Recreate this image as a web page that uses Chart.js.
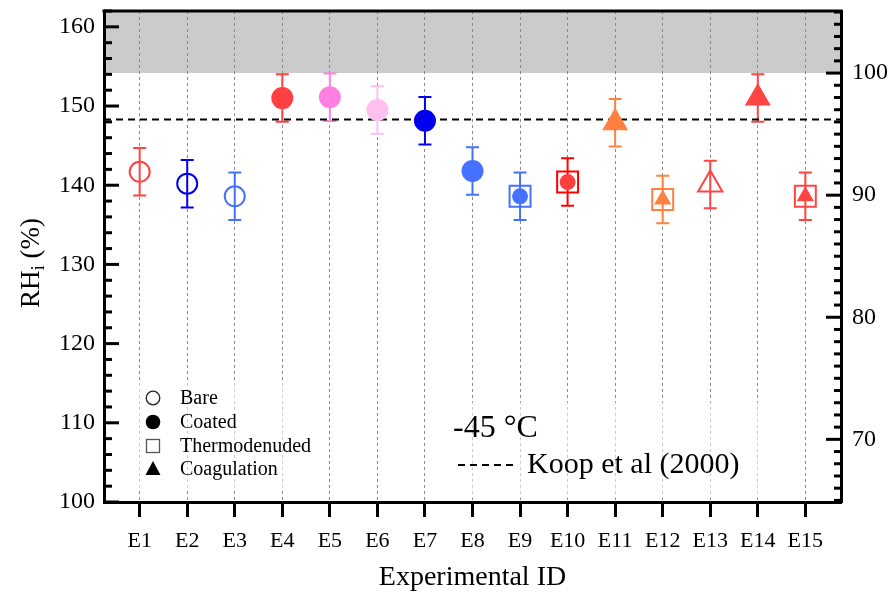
<!DOCTYPE html>
<html>
<head>
<meta charset="utf-8">
<script src="https://cdn.jsdelivr.net/npm/chart.js@4/dist/chart.umd.min.js"></script>
<style>
html,body{margin:0;padding:0;background:#fff;}
#wrap{width:894px;height:597px;}
canvas{display:block;}
</style>
</head>
<body>
<div id="wrap"><canvas id="c" width="894" height="597"></canvas></div>
<script>
// ---------- data ----------
const categories = ['E1','E2','E3','E4','E5','E6','E7','E8','E9','E10','E11','E12','E13','E14','E15'];
const rhiValues  = [141.7,140.2,138.6,151.0,151.1,149.5,148.15,141.8,138.6,140.4,147.9,138.2,140.1,151.0,138.6];
const rhiErrors  = [3.0,3.0,3.0,3.0,3.0,3.0,3.0,3.0,3.0,3.0,3.0,3.0,3.0,3.0,3.0];
const koopRHi = 148.3;                 // Koop et al (2000) homogeneous freezing
const waterSaturationRHi = 154.16;     // RHw = 100 %
const leftTickValues  = [100,110,120,130,140,150,160];
const rightTickValues = [70,80,90,100];
const legendLabels = ['Bare','Coated','Thermodenuded','Coagulation'];
const temperatureLabel = '-45 °C';
const koopLabel = 'Koop et al (2000)';
const xTitle = 'Experimental ID';

// ---------- styles (not data) ----------
const RED='#ff4444', BLUE='#0000ee', LBLUE='#4472ff', PINK='#ff80e0', LPINK='#ffc0f0', ORANGE='#ff8040';
const markerStyles = [
  {color:RED,   shape:'circle',   filled:false},
  {color:BLUE,  shape:'circle',   filled:false},
  {color:LBLUE, shape:'circle',   filled:false},
  {color:'#ff4040', shape:'circle', filled:true},
  {color:PINK,  shape:'circle',   filled:true},
  {color:LPINK, shape:'circle',   filled:true},
  {color:BLUE,  shape:'circle',   filled:true},
  {color:LBLUE, shape:'circle',   filled:true},
  {color:LBLUE, shape:'rect', filled:false, inner:'circle',   innerColor:LBLUE},
  {color:'#ff0000', shape:'rect', filled:false, inner:'circle', innerColor:'#ff4040'},
  {color:ORANGE,shape:'triangle', filled:true},
  {color:ORANGE,shape:'rect', filled:false, inner:'triangle', innerColor:ORANGE},
  {color:RED,   shape:'triangle', filled:false},
  {color:RED,   shape:'triangle', filled:true},
  {color:RED,   shape:'rect', filled:false, inner:'triangle', innerColor:RED}
];
function outerRadius(s){
  if (s.shape==='circle') return s.filled ? 11 : 10;
  if (s.shape==='rect') return 14.8;
  return s.filled ? 15 : 14;
}
function innerRadius(s){ return s.inner==='circle' ? 8 : 10; }

const FONT = '"Liberation Serif","Times New Roman",Times,serif';
const X_MIN = 0.25, X_MAX = 15.75, Y_MIN = 100, Y_MAX = 162;
const rightFactor = 100 / waterSaturationRHi;

const innerIdx = markerStyles.map((s,i)=>s.inner?i:-1).filter(i=>i>=0);

// ---------- plugins ----------
const errorBarPlugin = {
  id:'errorBars',
  beforeDatasetsDraw(chart){
    const {ctx, scales:{x,y}} = chart;
    ctx.save();
    // lighten grid lines behind the annotation boxes
    ctx.fillStyle='rgba(255,255,255,0.55)';
    ctx.fillRect(112,383,215,106);
    ctx.fillRect(440,402,345,96);
    rhiValues.forEach((v,i)=>{
      const px = x.getPixelForValue(i+1);
      const t = y.getPixelForValue(v+rhiErrors[i]);
      const b = y.getPixelForValue(v-rhiErrors[i]);
      ctx.strokeStyle = markerStyles[i].color;
      ctx.lineWidth = 2;
      ctx.beginPath();
      ctx.moveTo(px,t); ctx.lineTo(px,b);
      ctx.moveTo(px-6.5,t); ctx.lineTo(px+6.5,t);
      ctx.moveTo(px-6.5,b); ctx.lineTo(px+6.5,b);
      ctx.stroke();
    });
    ctx.restore();
  }
};

const decorPlugin = {
  id:'decor',
  afterDraw(chart){
    const {ctx, chartArea:a, scales:{x,y,y2}} = chart;
    ctx.save();
    ctx.strokeStyle='#000';
    // top border
    ctx.lineWidth=3;
    ctx.beginPath(); ctx.moveTo(a.left-1.5,a.top); ctx.lineTo(a.right+1.5,a.top); ctx.stroke();
    // inward ticks left
    for(let v=Y_MIN; v<=Y_MAX; v+=2){
      const py=y.getPixelForValue(v); const len = v%10===0?15:8;
      ctx.beginPath(); ctx.moveTo(a.left,py); ctx.lineTo(a.left+len,py); ctx.stroke();
    }
    // inward ticks right
    for(let v=Math.ceil(y2.min); v<=y2.max; v+=1){
      const py=y2.getPixelForValue(v); const len = v%10===0?15:7;
      ctx.beginPath(); ctx.moveTo(a.right,py); ctx.lineTo(a.right-len,py); ctx.stroke();
    }
    // axis titles
    ctx.fillStyle='#000';
    ctx.font='28px '+FONT; ctx.textAlign='center'; ctx.textBaseline='middle';
    ctx.fillText(xTitle,(a.left+a.right)/2,578);
    // y title with subscript
    ctx.save();
    ctx.translate(30,263); ctx.rotate(-Math.PI/2);
    const big='27px '+FONT, small='19px '+FONT;
    ctx.font=big; const w1=ctx.measureText('RH').width; const w3=ctx.measureText(' (%)').width;
    ctx.font=small; const w2=ctx.measureText('i').width;
    let sx=-(w1+w2+w3)/2;
    ctx.textAlign='left'; ctx.textBaseline='alphabetic';
    ctx.font=big; ctx.fillText('RH',sx,9); sx+=w1;
    ctx.font=small; ctx.fillText('i',sx,14); sx+=w2;
    ctx.font=big; ctx.fillText(' (%)',sx,9);
    ctx.restore();
    // legend
    const lx=153, rows=[398,422,446,469];
    ctx.lineWidth=1.3; ctx.strokeStyle='#222'; ctx.fillStyle='#000';
    ctx.beginPath(); ctx.arc(lx,rows[0],6.8,0,Math.PI*2); ctx.stroke();
    ctx.beginPath(); ctx.arc(lx,rows[1],7.3,0,Math.PI*2); ctx.fill();
    ctx.strokeStyle='#555'; ctx.strokeRect(lx-6.5,rows[2]-6.5,13,13);
    ctx.beginPath(); ctx.moveTo(lx,rows[3]-8); ctx.lineTo(lx+7.5,rows[3]+6); ctx.lineTo(lx-7.5,rows[3]+6); ctx.closePath(); ctx.fill();
    ctx.font='20px '+FONT; ctx.textAlign='left'; ctx.textBaseline='middle';
    legendLabels.forEach((t,i)=>ctx.fillText(t,180,rows[i]+1));
    // temperature + Koop legend
    ctx.font='32px '+FONT;
    ctx.fillText(temperatureLabel,453,429);
    ctx.strokeStyle='#000'; ctx.lineWidth=2; ctx.setLineDash([7,5]);
    ctx.beginPath(); ctx.moveTo(458,465); ctx.lineTo(517,465); ctx.stroke();
    ctx.setLineDash([]);
    ctx.font='30px '+FONT;
    ctx.fillText(koopLabel,527,465);
    ctx.restore();
  }
};

// ---------- datasets ----------
const innerDataset = {
  label:'inner',
  data: innerIdx.map(i=>({x:i+1,y:rhiValues[i]})),
  showLine:false,
  pointStyle: innerIdx.map(i=>markerStyles[i].inner),
  pointRadius: innerIdx.map(i=>innerRadius(markerStyles[i])),
  pointHoverRadius: innerIdx.map(i=>innerRadius(markerStyles[i])),
  pointBackgroundColor: innerIdx.map(i=>markerStyles[i].innerColor),
  pointBorderColor: innerIdx.map(i=>markerStyles[i].innerColor),
  pointBorderWidth: 0,
  clip:false
};
const outerDataset = {
  label:'RHi',
  data: rhiValues.map((v,i)=>({x:i+1,y:v})),
  showLine:false,
  pointStyle: markerStyles.map(s=>s.shape),
  pointRadius: markerStyles.map(outerRadius),
  pointHoverRadius: markerStyles.map(outerRadius),
  pointBackgroundColor: markerStyles.map(s=>s.filled?s.color:'rgba(0,0,0,0)'),
  pointBorderColor: markerStyles.map(s=>s.color),
  pointBorderWidth: markerStyles.map(s=>s.filled?0:2),
  clip:false
};
const koopDataset = {
  label:'Koop',
  data:[{x:X_MIN,y:koopRHi},{x:X_MAX,y:koopRHi}],
  showLine:true, borderColor:'#000', borderWidth:2, borderDash:[7,5],
  pointRadius:0, pointHoverRadius:0, fill:false
};
const shadeDataset = {
  label:'RHw>100',
  data:[{x:X_MIN,y:waterSaturationRHi},{x:X_MAX,y:waterSaturationRHi}],
  showLine:true, borderWidth:0, borderColor:'rgba(0,0,0,0)',
  backgroundColor:'#cbcbcb', fill:'end', pointRadius:0, pointHoverRadius:0
};

function zeroPad(s){ s.paddingTop=0; s.paddingBottom=0; s.paddingLeft=0; s.paddingRight=0; }

new Chart(document.getElementById('c'), {
  type:'scatter',
  data:{datasets:[innerDataset, outerDataset, koopDataset, shadeDataset]},
  options:{
    responsive:false, animation:false, devicePixelRatio:1,
    layout:{autoPadding:false, padding:{top:11,left:0,right:0,bottom:0}},
    events:[],
    plugins:{legend:{display:false}, tooltip:{enabled:false}, filler:{drawTime:'beforeDraw'}},
    scales:{
      x:{
        type:'linear', min:X_MIN, max:X_MAX,
        afterBuildTicks:s=>{ s.ticks = categories.map((c,i)=>({value:i+1})); },
        afterFit:s=>{ s.height = 95; zeroPad(s); },
        ticks:{ callback:v=>categories[Math.round(v)-1]||'', color:'#000',
                font:{family:FONT,size:22}, padding:11, maxRotation:0, autoSkip:false },
        grid:{ color:'#8a8a8a', lineWidth:1, tickLength:15, tickWidth:3, tickColor:'#000', tickBorderDash:[] },
        border:{ color:'#000', width:3, dash:[3,3] }
      },
      y:{
        type:'linear', position:'left', min:Y_MIN, max:Y_MAX,
        afterBuildTicks:s=>{ s.ticks = leftTickValues.map(v=>({value:v})); },
        afterFit:s=>{ s.width = 104; zeroPad(s); },
        ticks:{ color:'#000', font:{family:FONT,size:24}, padding:9 },
        grid:{ drawOnChartArea:false, drawTicks:false },
        border:{ color:'#000', width:3 }
      },
      y2:{
        type:'linear', position:'right', min:Y_MIN*rightFactor, max:Y_MAX*rightFactor,
        afterBuildTicks:s=>{ s.ticks = rightTickValues.map(v=>({value:v})); },
        afterFit:s=>{ s.width = 53; zeroPad(s); },
        ticks:{ color:'#000', font:{family:FONT,size:24}, padding:11 },
        grid:{ drawOnChartArea:false, drawTicks:false },
        border:{ color:'#000', width:3 }
      }
    }
  },
  plugins:[errorBarPlugin, decorPlugin]
});
</script>
</body>
</html>
